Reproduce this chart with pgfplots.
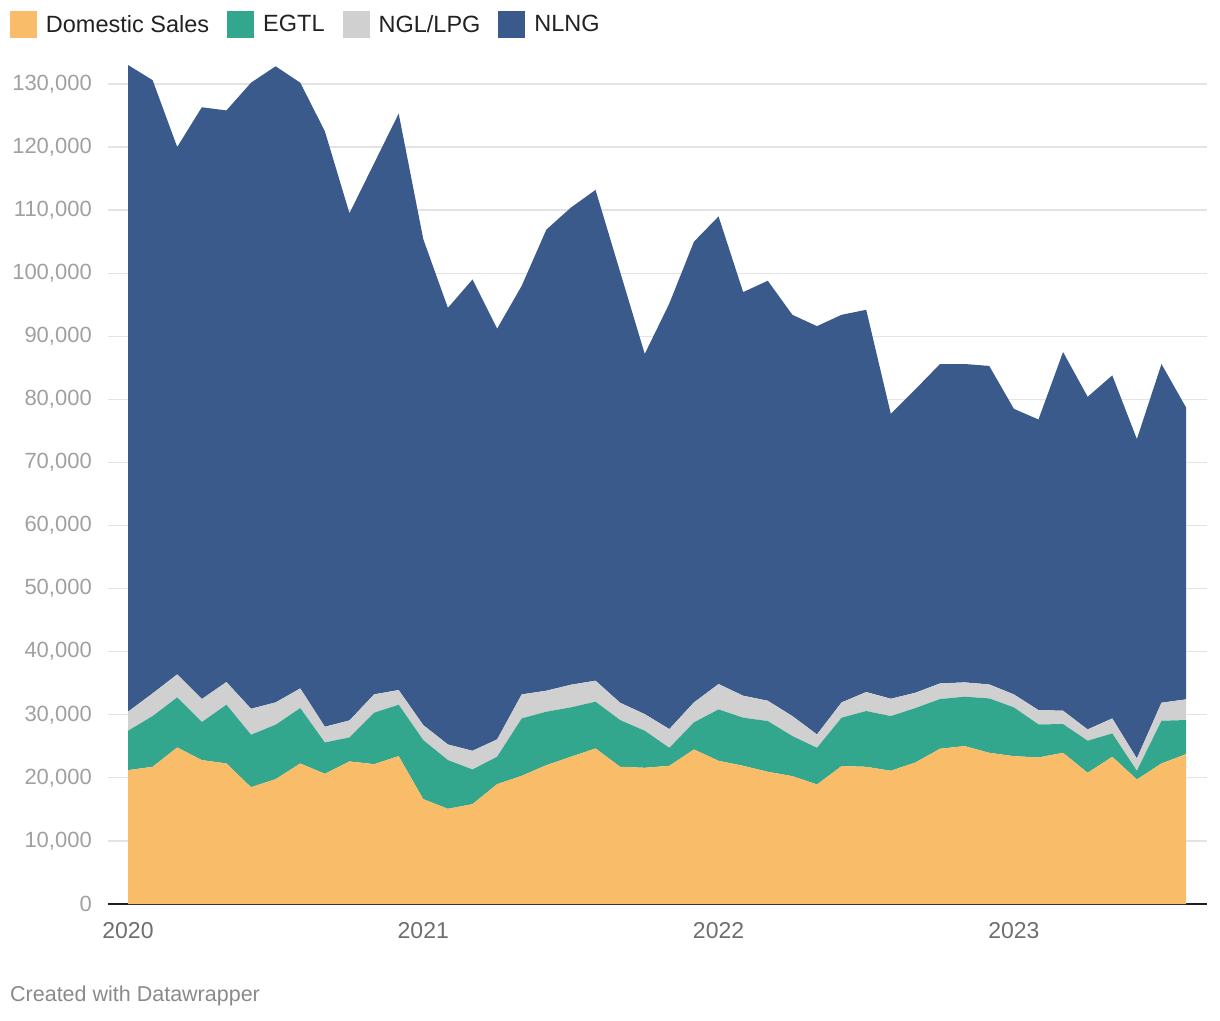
\documentclass[border=0pt]{standalone}
\usepackage{fontspec}
\setmainfont{Liberation Sans}
\usepackage{pgfplots}
\usepackage{pgfplotstable}
\pgfplotsset{compat=1.18}
\definecolor{cDom}{HTML}{F9BD6A}
\definecolor{cEgtl}{HTML}{33A68E}
\definecolor{cNgl}{HTML}{D0D0D0}
\definecolor{cNlng}{HTML}{3A5A8C}
\definecolor{cGrid}{HTML}{E3E3E3}
\definecolor{cYlab}{HTML}{A0A0A0}
\definecolor{cXlab}{HTML}{6E6E6E}
\definecolor{cCred}{HTML}{8A8A8A}
\definecolor{cLeg}{HTML}{222222}

% month index (0 = Jan 2020), then the four stacked series
\pgfplotstableread{
i  dom    egtl  ngl   nlng
0  21220  6240  3020  102520
1  21750  8040  3600  97210
2  24820  7930  3650  83600
3  22810  6030  3650  93810
4  22280  9310  3600  90610
5  18520  8310  4120  99250
6  19790  8630  3540  100840
7  22280  8780  3120  96020
8  20640  4970  2490  94400
9  22600  3800  2700  80400
10 22170  8150  2910  84170
11 23440  8150  2330  91380
12 16620  9360  2380  77040
13 15090  7720  2480  69210
14 15830  5500  2960  74710
15 19000  4340  2750  65110
16 20320  9100  3810  64770
17 22010  8470  3330  73090
18 23340  7830  3590  75640
19 24660  7410  3330  77800
20 21750  7410  2740  68300
21 21590  5870  2640  57100
22 21910  2850  2970  67470
23 24500  4290  3170  73040
24 22700  8150  4020  74130
25 21910  7620  3490  63980
26 20960  8040  3220  66580
27 20270  6350  3170  63610
28 18950  5810  2120  64720
29 21860  7670  2430  61440
30 21750  8840  3010  60600
31 21120  8670  2750  45160
32 22440  8620  2430  48110
33 24610  7880  2480  50630
34 25030  7830  2270  50470
35 23970  8620  2220  50490
36 23440  7730  2060  45270
37 23230  5240  2270  46060
38 23970  4550  2120  56860
39 20800  5080  1790  52730
40 23340  3700  2380  54380
41 19740  1380  1950  50630
42 22280  6770  2860  53690
43 23760  5400  3280  46260
}\datatable

\begin{document}
\begin{tikzpicture}
\begin{axis}[
  name=ax,
  scale only axis,
  width=1099pt, height=851.6pt,
  xmin=-0.813, xmax=43.85,
  ymin=0, ymax=135000,
  stack plots=y,
  clip=false,
  axis line style={draw=none},
  tick style={draw=none},
  major tick length=0pt,
  ymajorgrids,
  grid style={color=cGrid, line width=1.3pt},
  ytick={0,10000,...,130000},
  xtick={0,12,24,36},
  xticklabels={2020,2021,2022,2023},
  scaled y ticks=false,
  /pgf/number format/assume math mode=true,
  yticklabel style={/pgf/number format/fixed, /pgf/number format/precision=0, /pgf/number format/1000 sep={,}, font=\fontsize{22}{26}\selectfont, text=cYlab, anchor=east, inner sep=0pt, xshift=-16pt},
  xticklabel style={font=\fontsize{23}{27}\selectfont, text=cXlab, anchor=north, inner sep=0pt, yshift=-18pt},
  legend columns=4,
  legend image code/.code={\fill[#1] (0pt,-13.5pt) rectangle (27pt,13.5pt);},
  legend style={at={(axis description cs:-0.0892,1.0486)}, anchor=north west,
    draw=none, fill=none, inner sep=0pt, outer sep=0pt,
    font=\fontsize{23.5}{27}\selectfont, text=cLeg,
    nodes={inner sep=0pt, anchor=west},
    /tikz/every odd column/.append style={column sep=9pt},
    /tikz/every even column/.append style={column sep=18pt}},
]
\addplot[fill=cDom, draw=none] table[x=i, y=dom] {\datatable} \closedcycle;
\addlegendentry{Domestic Sales}
\addplot[fill=cEgtl, draw=none] table[x=i, y=egtl] {\datatable} \closedcycle;
\addlegendentry{EGTL}
\addplot[fill=cNgl, draw=none] table[x=i, y=ngl] {\datatable} \closedcycle;
\addlegendentry{NGL/LPG}
\addplot[fill=cNlng, draw=none] table[x=i, y=nlng] {\datatable} \closedcycle;
\addlegendentry{NLNG}
\draw[color=black!88, line width=1.8pt] (rel axis cs:0,0) -- (rel axis cs:1,0);
\node[anchor=west, inner sep=0pt, text=cCred, font=\fontsize{21.5}{25}\selectfont] at (axis description cs:-0.0892,-0.108) {Created with Datawrapper};
\end{axis}
\pgfresetboundingbox
\path[use as bounding box] ([shift={(-108pt,-116pt)}]ax.south west) rectangle ([shift={(1112pt,904pt)}]ax.south west);
\end{tikzpicture}
\end{document}
